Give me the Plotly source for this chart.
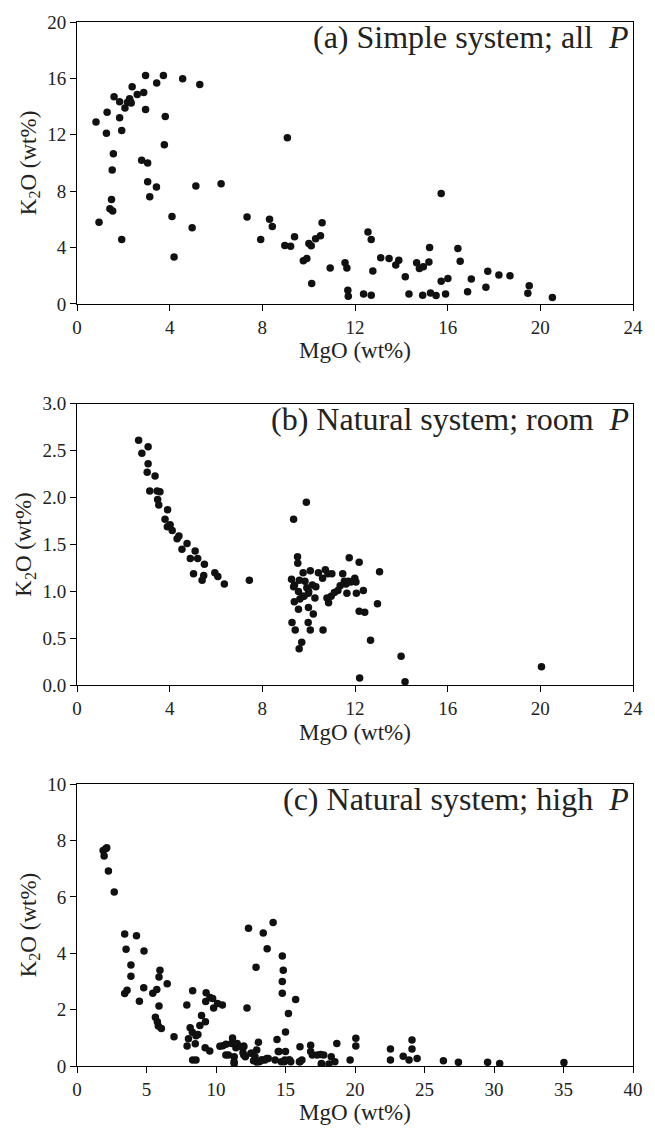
import plotly.graph_objects as go

# Panel (a) Simple system; all P
a_mgo = [0.82, 0.95, 1.3, 1.27, 1.6, 1.57, 1.52, 1.49, 1.42, 1.54, 1.84, 1.84, 1.93, 1.93, 2.07, 2.18,
         2.29, 2.34, 2.38, 2.27, 2.6, 2.88, 2.96, 2.96, 2.79, 3.05, 3.05, 3.14, 3.43, 3.44, 3.73, 3.81,
         3.77, 4.1, 4.19, 4.56, 4.97, 5.13, 5.3, 6.22, 7.34, 7.93, 8.31, 8.43, 8.97, 9.22, 9.39, 9.08,
         9.77, 9.92, 10.01, 10.11, 10.13, 10.3, 10.51, 10.58,
         10.93, 11.57, 11.65, 11.69, 11.71, 12.37, 12.7, 12.56, 12.7, 12.77, 13.11, 13.47, 13.76, 13.89,
         14.17, 14.33, 14.66, 14.78, 14.95, 15.19, 15.22, 14.92, 15.26, 15.5, 15.72, 15.72, 16.01, 15.91,
         16.44, 16.54, 16.86, 17.02, 17.65, 17.73, 18.21, 18.69, 19.46, 19.52, 20.52]
a_k2o = [12.9, 5.8, 13.6, 12.1, 14.7, 10.65, 9.5, 7.4, 6.76, 6.6, 14.35, 13.2, 12.3, 4.57, 13.9, 14.3,
         14.4, 14.25, 15.4, 14.55, 14.86, 15.0, 16.2, 13.8, 10.2, 10.0, 8.67, 7.6, 8.3, 15.67, 16.2, 13.3,
         11.3, 6.2, 3.32, 15.97, 5.4, 8.36, 15.57, 8.53, 6.17, 4.57, 6.0, 5.5, 4.15, 4.1, 4.76, 11.78,
         3.06, 3.23, 4.29, 4.12, 1.44, 4.62, 4.83, 5.75,
         2.54, 2.92, 2.54, 0.97, 0.54, 0.71, 0.62, 5.11, 4.57, 2.33, 3.27, 3.22, 2.76, 3.09,
         1.93, 0.71, 2.92, 2.52, 2.64, 2.97, 4.0, 0.61, 0.78, 0.59, 7.84, 1.6, 1.81, 0.71,
         3.93, 3.02, 0.87, 1.77, 1.18, 2.31, 2.05, 2.0, 0.75, 1.29, 0.45]

# Panel (b) Natural system; room P
b_mgo = [2.66, 2.8, 3.07, 3.07, 3.03, 3.14, 3.37, 3.46, 3.58, 3.48, 3.53, 3.91, 3.8, 3.9, 4.02, 4.11,
         4.32, 4.4, 4.53, 4.75, 4.89, 5.1, 5.21, 5.03, 5.4, 5.47, 5.5, 5.95, 6.08, 6.36, 7.44,
         9.35, 9.9, 9.26, 9.52, 9.53, 9.39, 9.28, 9.42, 9.7, 9.59, 9.56, 9.38, 9.62, 9.56, 9.73, 9.76,
         9.84, 9.92, 9.99, 10.07, 9.99, 10.2, 9.98, 10.07, 10.16, 10.27, 10.31, 10.6, 10.62, 10.42,
         9.35, 9.6, 9.8, 10.0,
         10.72, 10.83, 11.0, 10.79, 10.86, 10.97, 11.11, 11.26, 11.36, 11.47, 11.54, 11.61, 11.65, 11.75,
         11.71, 11.82, 11.89, 11.99, 12.04, 12.06, 12.18, 12.18, 12.36, 12.42, 12.97, 13.06, 12.67, 12.2,
         13.99, 14.16, 20.05]
b_k2o = [2.61, 2.47, 2.54, 2.36, 2.27, 2.07, 2.23, 2.07, 2.06, 1.98, 1.92, 1.87, 1.77, 1.69, 1.71, 1.65,
         1.56, 1.59, 1.45, 1.51, 1.35, 1.43, 1.35, 1.19, 1.12, 1.17, 1.29, 1.2, 1.16, 1.08, 1.12,
         1.77, 1.95, 1.13, 1.37, 1.3, 1.07, 0.67, 0.59, 0.46, 0.39, 0.81, 0.89, 0.92, 1.0, 0.95, 1.2,
         1.11, 1.04, 0.98, 1.22, 0.83, 0.76, 0.67, 0.59, 1.07, 0.93, 1.05, 1.14, 0.59, 1.2,
         1.05, 1.12, 0.95, 1.0,
         1.23, 1.19, 1.19, 0.93, 0.88, 0.95, 0.99, 1.01, 1.06, 1.19, 1.11, 1.08, 0.98, 1.36,
         1.11, 1.1, 1.11, 1.14, 1.1, 0.98, 1.31, 0.79, 1.01, 0.78, 0.87, 1.21, 0.48, 0.08,
         0.31, 0.04, 0.2]

# Panel (c) Natural system; high P
c_mgo = [1.88, 1.95, 2.07, 2.14, 2.26, 2.68, 3.43, 3.53, 3.88, 3.88, 3.43, 3.6, 4.28, 4.82, 4.8, 4.49,
         5.45, 5.74, 5.97, 5.9, 5.9, 5.64, 5.78, 5.85, 6.07, 6.49, 6.98, 7.9, 8.32, 7.92, 8.02, 8.14,
         8.3, 8.56, 8.7, 8.51, 8.32, 8.56, 8.84, 8.96, 9.24, 9.26, 9.29, 9.57, 9.76, 9.83, 10.11, 10.46,
         9.22, 9.55, 10.28, 10.49, 10.72, 10.89, 11.12, 11.19, 11.31, 11.31, 11.43, 11.52, 11.83, 11.99,
         11.94, 12.11, 12.23, 12.34, 12.51, 12.7, 12.81, 12.88, 12.93, 13.05, 12.93, 13.12, 13.28, 13.4,
         13.52, 13.68, 13.76, 14.11, 14.25, 14.39, 14.53, 14.7, 14.77, 14.84, 14.77, 14.77, 14.91, 15.0,
         15.0, 15.21, 15.24, 15.38, 15.73, 16.04, 16.04, 16.18, 16.81, 16.81, 16.93, 17.28, 17.59, 17.75,
         10.71, 11.3, 12.0, 12.0, 12.59, 13.3, 13.65, 14.48, 14.95, 15.3, 16.0,
         17.53, 17.58, 18.12, 18.29, 18.55, 18.69, 19.65, 20.06, 20.06, 22.55, 22.55, 23.47, 23.89, 24.1,
         24.1, 24.47, 26.36, 27.44, 29.54, 30.41, 35.03]
c_k2o = [7.64, 7.45, 7.71, 7.74, 6.92, 6.17, 4.68, 4.14, 3.58, 3.18, 2.57, 2.69, 4.62, 4.08, 2.78, 2.3,
         2.58, 2.71, 3.4, 3.16, 2.13, 1.73, 1.57, 1.42, 1.33, 2.92, 1.04, 2.16, 2.67, 0.71, 0.97, 1.36,
         1.2, 1.07, 1.12, 0.79, 0.21, 0.21, 1.44, 1.79, 1.57, 2.29, 2.6, 2.43, 2.39, 2.06, 2.22, 2.16,
         0.65, 0.53, 0.7, 0.72, 0.77, 0.39, 0.8, 0.99, 0.33, 0.09, 0.65, 0.8, 0.68, 0.71,
         0.47, 0.33, 2.06, 4.89, 0.45, 0.19, 0.33, 3.5, 0.57, 0.84, 0.14, 0.15, 0.21, 4.72,
         0.21, 4.16, 0.27, 5.09, 0.21, 0.94, 0.51, 0.15, 3.9, 3.4, 3.0, 2.58, 0.15, 1.21,
         0.51, 1.86, 0.21, 0.15, 2.36, 0.15, 0.68, 0.21, 0.74, 0.51, 0.39, 0.39, 0.09, 0.39,
         0.39, 0.15, 0.68, 0.39, 0.45, 0.21, 0.27, 0.51, 0.21, 0.21, 0.15,
         0.41, 0.07, 0.07, 0.33, 0.15, 0.8, 0.21, 0.98, 0.71, 0.6, 0.21, 0.35, 0.21, 0.92,
         0.6, 0.27, 0.19, 0.13, 0.13, 0.09, 0.12]

panel_titles = ["(a) Simple system; all&nbsp; <i>P</i>",
                "(b) Natural system; room&nbsp; <i>P</i>",
                "(c) Natural system; high&nbsp; <i>P</i>"]
x_title = "MgO (wt%)"
y_title = "K<sub>2</sub>O (wt%)"

FONT = "Liberation Serif, Times New Roman, serif"
H = 1134
T, B = 18, 68
ph = H - T - B
tops_px = [18, 401, 783]
plot_h = 283

def dom(top):
    bottom = top + plot_h
    return [(H - B - bottom) / ph, (H - B - top) / ph]

fig = go.Figure()
data = [(a_mgo, a_k2o), (b_mgo, b_k2o), (c_mgo, c_k2o)]
for i, (xs, ys) in enumerate(data):
    sfx = "" if i == 0 else str(i + 1)
    fig.add_trace(go.Scatter(x=xs, y=ys, mode="markers",
                             marker=dict(size=7.5, color="#111111"),
                             xaxis="x" + sfx, yaxis="y" + sfx, showlegend=False))

axcommon = dict(showline=True, linecolor="black", linewidth=1, mirror=True,
                ticks="outside", ticklen=6, tickcolor="black", showgrid=False, zeroline=False,
                tickfont=dict(family=FONT, size=19, color="#222"),
                title_font=dict(family=FONT, size=23, color="#222"))

xranges = [[0, 24], [0, 24], [0, 40]]
xdticks = [4, 4, 5]
yranges = [[0, 20], [0, 3], [0, 10]]
ydticks = [4, 0.5, 2]
yfmts = ["d", ".1f", "d"]

layout = dict(width=655, height=H, margin=dict(l=77, r=13, t=T, b=B),
              plot_bgcolor="white", paper_bgcolor="white",
              font=dict(family=FONT, color="#222"))
for i in range(3):
    sfx = "" if i == 0 else str(i + 1)
    d = dom(tops_px[i])
    layout["xaxis" + sfx] = dict(axcommon, domain=[0, 1], range=xranges[i], dtick=xdticks[i],
                                 tick0=0, anchor="y" + sfx,
                                 title=dict(text=x_title, standoff=5))
    layout["yaxis" + sfx] = dict(axcommon, domain=d, range=yranges[i], dtick=ydticks[i],
                                 tick0=0, tickformat=yfmts[i], anchor="x" + sfx,
                                 title=dict(text=y_title, standoff=4))
fig.update_layout(**layout)

for i in range(3):
    d = dom(tops_px[i])
    fig.add_annotation(text=panel_titles[i], xref="paper", yref="paper",
                       x=1.0, y=d[1], xanchor="right", yanchor="top", yshift=5, xshift=-2,
                       showarrow=False, font=dict(family=FONT, size=32, color="#222"))

fig.write_html("out.html")
